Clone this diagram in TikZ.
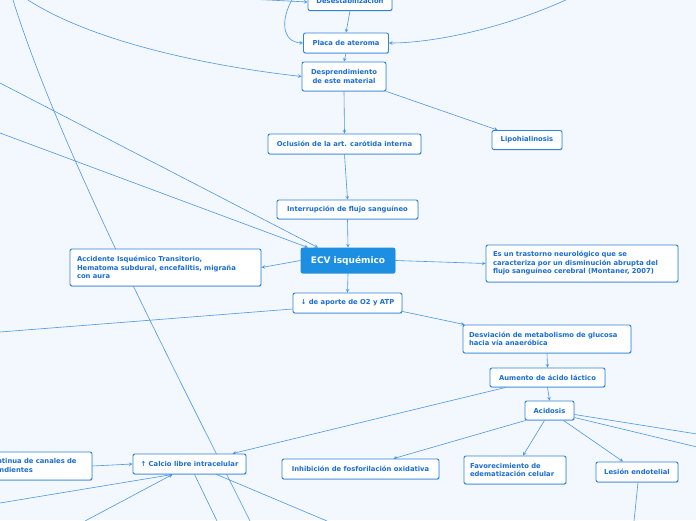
\documentclass[tikz,border=0pt]{standalone}
\usepackage{fontspec}
\setmainfont{DejaVu Sans}
\usetikzlibrary{backgrounds,shadows}
\definecolor{fondo}{HTML}{F3F7FE}
\definecolor{borde}{HTML}{2F84D8}
\definecolor{texto}{HTML}{1A6DD6}
\definecolor{linea}{HTML}{4B97E6}
\definecolor{central}{HTML}{1C8FE2}
\tikzset{
  caja/.style={draw=borde,fill=white,line width=0.9pt,rounded corners=2pt,inner sep=0pt,
    text=texto,font=\fontsize{6.8}{8.5}\selectfont\bfseries,
    drop shadow={shadow xshift=0.4pt,shadow yshift=-0.9pt,opacity=0.35,fill=borde}},
  cajal/.style={caja,align=left,execute at begin node={\hyphenpenalty=10000}},
  flecha/.style={draw=linea,line width=0.6pt,-stealth},
  linea/.style={draw=linea,line width=0.6pt}
}
\begin{document}
\begin{tikzpicture}[x=1pt,y=-1pt]
\useasboundingbox (0,0) rectangle (696,520);
\clip (0,0) rectangle (696,520);
\node (desest) at (350,0.5) [caja,minimum width=84,minimum height=20]{Desestabilización};
\node (placa) at (346,43) [caja,minimum width=85,minimum height=20]{Placa de ateroma};
\node (despr) at (344,76.5) [caja,minimum width=84,minimum height=29,align=center]{Desprendimiento\\de este material};
\node (lipo) at (527,140) [caja,minimum width=70,minimum height=19]{Lipohialinosis};
\node (oclus) at (344.5,144) [caja,minimum width=153,minimum height=20]{Oclusión de la art. carótida interna};
\node (interr) at (347.5,209.5) [caja,minimum width=141,minimum height=19]{Interrupción de flujo sanguíneo};
\node (ecv) at (348,260.5) [caja,draw=central,fill=central,text=white,minimum width=94,minimum height=25,
  font=\fontsize{9}{10}\selectfont\bfseries]{ECV isquémico};
\node (accid) at (165.5,267.5) [cajal,minimum width=191,minimum height=37,text width=177]{Accidente Isquémico Transitorio,\\Hematoma subdural, encefalitis, migraña\\con aura};
\node (trast) at (582,263.5) [cajal,minimum width=192,minimum height=37,text width=178]{Es un trastorno neurológico que se\\caracteriza por un disminución abrupta del\\flujo sanguíneo cerebral (Montaner, 2007)};
\node (aporte) at (347.5,303) [caja,minimum width=109,minimum height=20]{↓ de aporte de O2 y ATP};
\node (desvi) at (547,339) [cajal,minimum width=168,minimum height=28,text width=156]{Desviación de metabolismo de glucosa\\hacia vía anaeróbica};
\node (aumento) at (547.5,377.5) [caja,minimum width=115,minimum height=19]{Aumento de ácido láctico};
\node (acid) at (549.5,410.5) [caja,minimum width=49,minimum height=19]{Acidosis};
\node (inhib) at (360.5,469) [caja,minimum width=157,minimum height=20]{Inhibición de fosforilación oxidativa};
\node (favor) at (515,470) [cajal,minimum width=102,minimum height=28,text width=90]{Favorecimiento de\\edematización celular};
\node (lesion) at (637,472) [caja,minimum width=82,minimum height=20]{Lesión endotelial};
\node (calcio) at (189.5,464) [caja,minimum width=113,minimum height=20]{↑ Calcio libre intracelular};
\node (apert) at (19,466) [cajal,minimum width=146,minimum height=28,text width=134]{Apertura continua de canales de\\voltaje dependientes};
\coordinate (t1) at (28,0);
\coordinate (t2) at (200,-1);
\coordinate (t3) at (293,-2);
\coordinate (t4) at (568,-1);
\coordinate (t5) at (13,0);
\coordinate (l1) at (0,83);
\coordinate (l2) at (0,133);
\coordinate (l3) at (0,332);
\coordinate (l4) at (0,503);
\coordinate (b1) at (85,521);
\coordinate (b2) at (217,521);
\coordinate (b3) at (327,521);
\coordinate (b4) at (250,521);
\coordinate (b5) at (634,521);
\coordinate (r1) at (697,434);
\coordinate (r2) at (697,447);
\begin{scope}[on background layer]
\fill[fondo] (0,0) rectangle (696,520);
\draw[flecha] (desest.south) -- (placa.north);
\draw[flecha] (placa.south) -- (despr.north);
\draw[flecha] (despr.south) -- (oclus.north);
\draw[flecha] (despr.south east) -- ([xshift=6pt]lipo.north west);
\draw[flecha] (oclus.south) -- (interr.north);
\draw[flecha] (interr.south) -- (ecv.north);
\draw[flecha] (ecv.west) -- (accid.east);
\draw[flecha] (ecv.east) -- (trast.west);
\draw[flecha] (ecv.south) -- (aporte.north);
\draw[flecha] ([yshift=2pt]aporte.south east) -- ([xshift=2pt]desvi.north west);
\draw[flecha] (desvi.south) -- (aumento.north);
\draw[flecha] (aumento.south) -- (acid.north);
\draw[flecha] ([xshift=-24pt]acid.south) -- ([xshift=33pt]inhib.north);
\draw[flecha] ([xshift=-5pt]acid.south) -- ([xshift=8pt]favor.north);
\draw[flecha] ([xshift=14pt]acid.south) -- ([xshift=-14pt]lesion.north);
\draw[linea] ([yshift=-4pt]acid.east) -- (r1);
\draw[linea] ([yshift=-7pt]acid.east) -- (r2);
\draw[flecha] ([xshift=-42pt]aumento.south) -- ([xshift=43pt]calcio.north);
\draw[flecha] (apert.east) -- (calcio.west);
\draw[flecha] (l4) -- ([xshift=-17pt]calcio.south);
\draw[flecha] (b1) -- ([xshift=-17pt]calcio.south);
\draw[linea] ([xshift=5pt]calcio.south) -- (b2);
\draw[linea] ([xshift=27pt]calcio.south) -- (b3);
\draw[linea] ([yshift=-6pt]aporte.west) -- (l3);
\draw[flecha] (l1) -- ([xshift=-30pt]ecv.north);
\draw[flecha] (l2) -- ([xshift=-40pt]ecv.north);
\draw[flecha] (t1) .. controls (90,40) and (200,65) .. (despr.west);
\draw[flecha] (t2) .. controls (250,-1) .. ([yshift=-1.5pt]desest.west);
\draw[flecha] (t3) .. controls (280,20) and (282,42) .. (placa.west);
\draw[flecha] (t4) .. controls (500,30) and (430,43) .. (placa.east);
\draw[linea] (t5) .. controls (60,150) and (170,360) .. (b4);
\draw[linea] ([xshift=1pt]lesion.south) -- (b5);
\end{scope}
\end{tikzpicture}
\end{document}
